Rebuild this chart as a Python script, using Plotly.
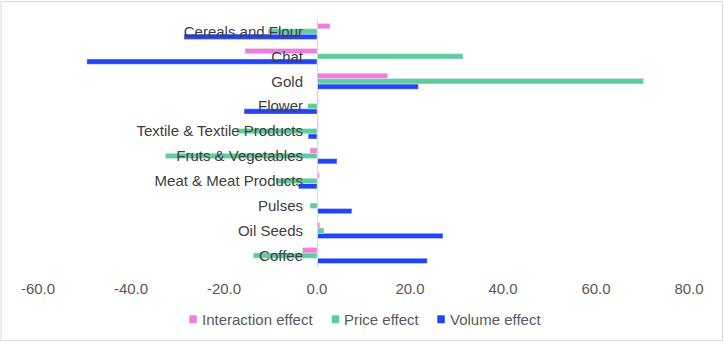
import plotly.graph_objects as go

categories = ["Coffee", "Oil Seeds", "Pulses", "Meat & Meat Products", "Fruts & Vegetables",
              "Textile & Textile Products", "Flower", "Gold", "Chat", "Cereals and Flour"]
interaction = [-3.1, 0.6, 0.2, 0.5, -1.5, 0.3, 0.3, 15.2, -15.5, 2.8]
price = [-13.7, 1.5, -1.5, -8.8, -32.6, -17.2, -2.0, 70.2, 31.4, -10.5]
volume = [23.7, 27.1, 7.5, -4.0, 4.3, -1.9, -15.7, 21.8, -49.5, -28.6]

x_ticks = [-60, -40, -20, 0, 20, 40, 60, 80]
x_ticktext = ["-60.0", "-40.0", "-20.0", "0.0", "20.0", "40.0", "60.0", "80.0"]

series_names = ["Interaction effect", "Price effect", "Volume effect"]
series_colors = ["#EF7ED8", "#5ECD9B", "#2343F6"]

fig = go.Figure()
for name, vals, col in [(series_names[2], volume, series_colors[2]),
                        (series_names[1], price, series_colors[1]),
                        (series_names[0], interaction, series_colors[0])]:
    fig.add_trace(go.Bar(y=categories, x=vals, orientation="h", name=name,
                         marker_color=col, showlegend=False))

xmin, xmax = -60, 80
L, T, PW, PH = 38, 18.5, 651, 250


def px_x(px):
    return (px - L) / PW


def px_y(py):
    return (T + PH - py) / PH


# custom legend (compact, like the original)
legend_sq_x = [189.3, 331.7, 437.3]
legend_txt_x = [200.5, 342.7, 448.7]
legend_y = 320
shapes = [dict(type="rect", xref="paper", yref="paper",
               x0=px_x(1), x1=px_x(722.5), y0=px_y(341.5), y1=px_y(1),
               line=dict(color="#D9D9D9", width=1), layer="below")]
annotations = []
for i, name in enumerate(series_names):
    shapes.append(dict(type="rect", xref="paper", yref="paper",
                       x0=px_x(legend_sq_x[i]), x1=px_x(legend_sq_x[i] + 7.5),
                       y0=px_y(legend_y + 4), y1=px_y(legend_y - 4),
                       fillcolor=series_colors[i], line=dict(width=0)))
    annotations.append(dict(xref="paper", yref="paper", x=px_x(legend_txt_x[i]),
                            y=px_y(legend_y), xanchor="left", yanchor="middle",
                            text=name, showarrow=False, xshift=-1,
                            font=dict(size=15, color="#595959")))

fig.update_layout(
    width=724, height=345,
    margin=dict(l=L, r=724 - L - PW, t=T, b=345 - T - PH),
    barmode="group", bargap=0.36, bargroupgap=0,
    plot_bgcolor="white", paper_bgcolor="white", showlegend=False,
    font=dict(family="Liberation Sans, Arial, sans-serif", size=15, color="#595959"),
    xaxis=dict(range=[xmin, xmax], tickvals=x_ticks, ticktext=x_ticktext, showgrid=False,
               zeroline=False, showline=False, ticks="", ticklabelstandoff=10,
               tickfont=dict(size=15, color="#595959")),
    yaxis=dict(categoryorder="array", categoryarray=categories, anchor="free",
               position=(0 - xmin) / (xmax - xmin), showline=True, linecolor="#D9D9D9",
               linewidth=1, ticks="", ticklabelstandoff=11, showgrid=False,
               tickfont=dict(size=15, color="#404040")),
    shapes=shapes,
    annotations=annotations,
)

fig.write_html("out.html")
